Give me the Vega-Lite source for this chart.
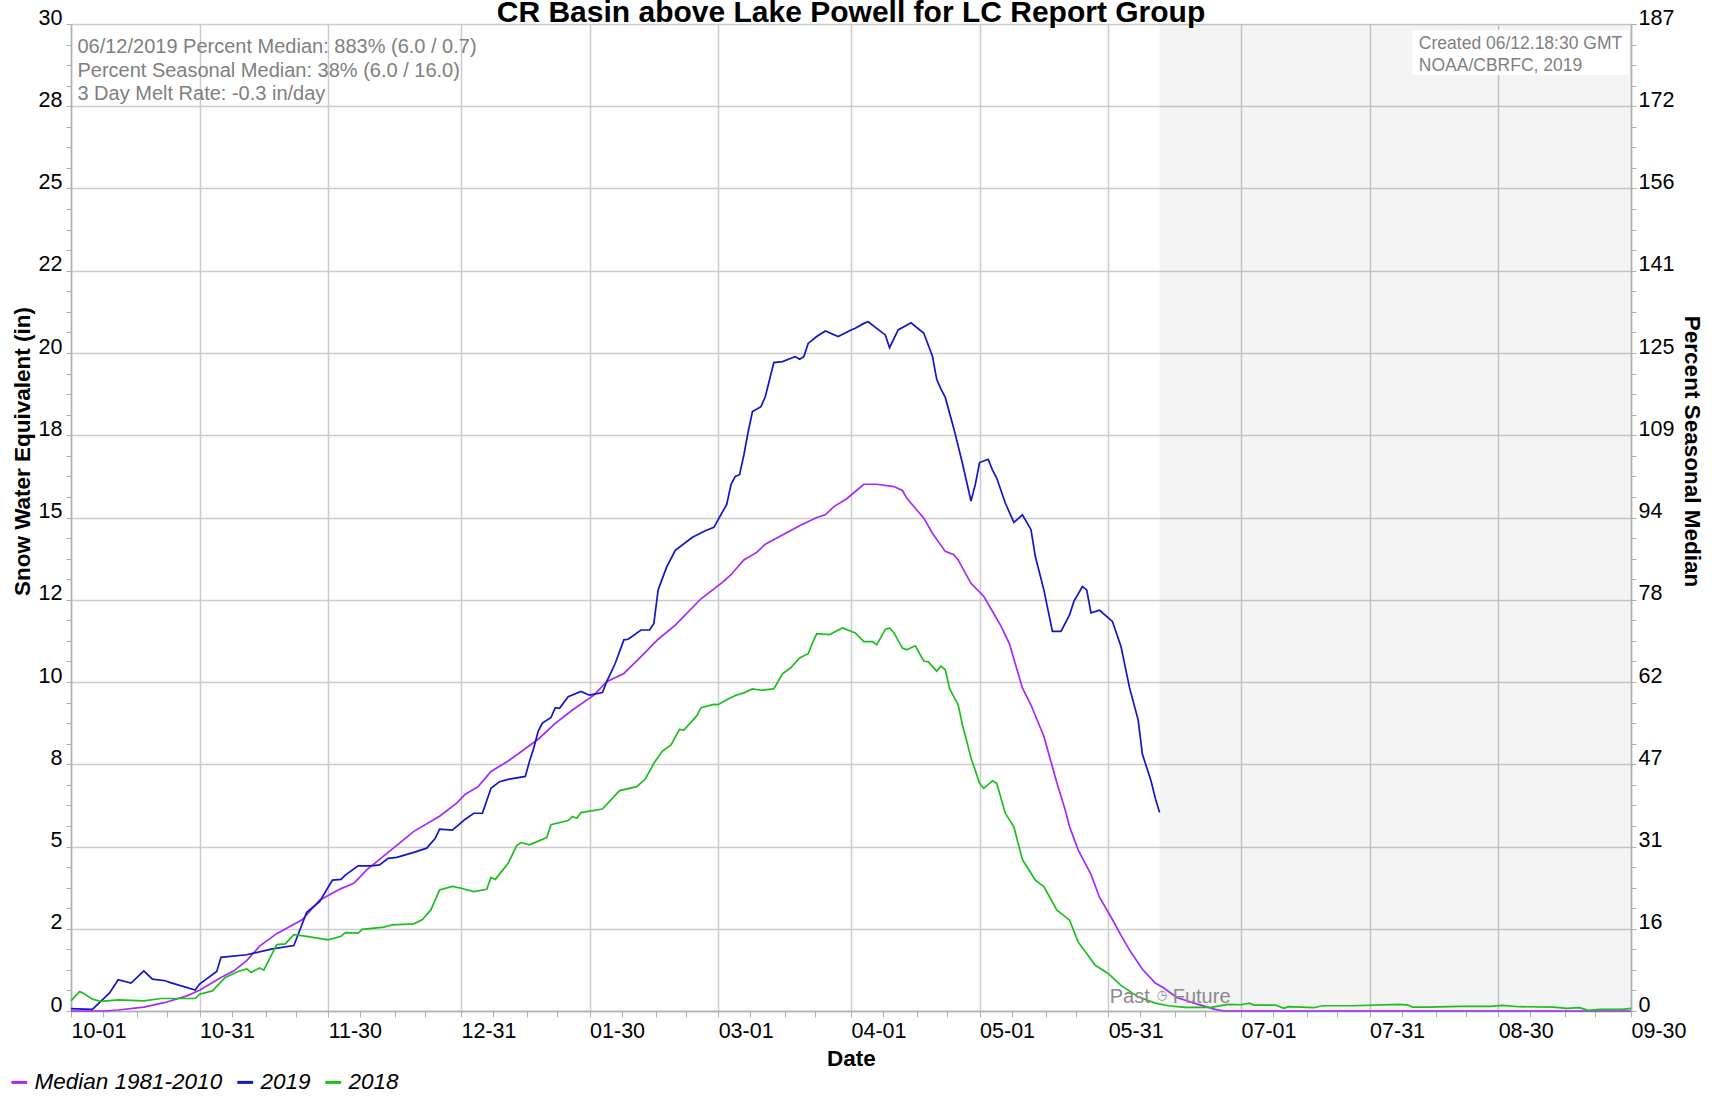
{
  "$schema": "https://vega.github.io/schema/vega-lite/v6.json",
  "width": 1560,
  "height": 987,
  "autosize": {"type": "none"},
  "padding": {"left": 71, "top": 24, "right": 87, "bottom": 85},
  "background": "white",
  "title": {
    "text": "CR Basin above Lake Powell for LC Report Group",
    "frame": "group", "anchor": "middle", "baseline": "alphabetic", "offset": 0, "dy": 45,
    "font": "Liberation Sans", "fontSize": 30, "fontWeight": "bold", "color": "#000000"
  },
  "config": {"view": {"stroke": null}, "font": "Liberation Sans"},
  "resolve": {"axis": {"x": "independent", "y": "independent"}},
  "layer": [
    {
      "data": {"values": [{"start": "2019-06-12", "end": "2019-09-30"}]},
      "mark": {"type": "rect", "fill": "#000000", "opacity": 0.045},
      "encoding": {
        "x": {"field": "start", "type": "temporal", "axis": null},
        "x2": {"field": "end"}
      }
    },
    {
      "data": {"values": [{}]},
      "mark": {"type": "rect", "fill": "#ffffff"},
      "encoding": {
        "x": {"datum": {"year": 2019, "month": 8, "date": 10, "utc": true}, "type": "temporal", "axis": null},
        "x2": {"datum": {"year": 2019, "month": 9, "date": 29, "hours": 12, "utc": true}},
        "y": {"datum": 29.81, "type": "quantitative", "axis": null},
        "y2": {"datum": 28.45}
      }
    },
    {
      "data": {"values": [
        {"date": "2018-10-01", "series": "Median 1981-2010", "swe": 0},
        {"date": "2018-10-09", "series": "Median 1981-2010", "swe": 0},
        {"date": "2018-10-12", "series": "Median 1981-2010", "swe": 0.03},
        {"date": "2018-10-18", "series": "Median 1981-2010", "swe": 0.12},
        {"date": "2018-10-23", "series": "Median 1981-2010", "swe": 0.26},
        {"date": "2018-10-28", "series": "Median 1981-2010", "swe": 0.46},
        {"date": "2018-10-31", "series": "Median 1981-2010", "swe": 0.63},
        {"date": "2018-11-05", "series": "Median 1981-2010", "swe": 1.02},
        {"date": "2018-11-08", "series": "Median 1981-2010", "swe": 1.22},
        {"date": "2018-11-11", "series": "Median 1981-2010", "swe": 1.53},
        {"date": "2018-11-14", "series": "Median 1981-2010", "swe": 1.97},
        {"date": "2018-11-18", "series": "Median 1981-2010", "swe": 2.35},
        {"date": "2018-11-24", "series": "Median 1981-2010", "swe": 2.78},
        {"date": "2018-11-28", "series": "Median 1981-2010", "swe": 3.37},
        {"date": "2018-12-03", "series": "Median 1981-2010", "swe": 3.72},
        {"date": "2018-12-06", "series": "Median 1981-2010", "swe": 3.88},
        {"date": "2018-12-09", "series": "Median 1981-2010", "swe": 4.29},
        {"date": "2018-12-14", "series": "Median 1981-2010", "swe": 4.82},
        {"date": "2018-12-20", "series": "Median 1981-2010", "swe": 5.46},
        {"date": "2018-12-26", "series": "Median 1981-2010", "swe": 5.92},
        {"date": "2018-12-30", "series": "Median 1981-2010", "swe": 6.32},
        {"date": "2019-01-01", "series": "Median 1981-2010", "swe": 6.59},
        {"date": "2019-01-04", "series": "Median 1981-2010", "swe": 6.82},
        {"date": "2019-01-07", "series": "Median 1981-2010", "swe": 7.28},
        {"date": "2019-01-11", "series": "Median 1981-2010", "swe": 7.6},
        {"date": "2019-01-14", "series": "Median 1981-2010", "swe": 7.88},
        {"date": "2019-01-18", "series": "Median 1981-2010", "swe": 8.26},
        {"date": "2019-01-22", "series": "Median 1981-2010", "swe": 8.74},
        {"date": "2019-01-26", "series": "Median 1981-2010", "swe": 9.15},
        {"date": "2019-01-31", "series": "Median 1981-2010", "swe": 9.6},
        {"date": "2019-02-03", "series": "Median 1981-2010", "swe": 10.01},
        {"date": "2019-02-07", "series": "Median 1981-2010", "swe": 10.26},
        {"date": "2019-02-11", "series": "Median 1981-2010", "swe": 10.77},
        {"date": "2019-02-15", "series": "Median 1981-2010", "swe": 11.3},
        {"date": "2019-02-19", "series": "Median 1981-2010", "swe": 11.73},
        {"date": "2019-02-25", "series": "Median 1981-2010", "swe": 12.53},
        {"date": "2019-03-02", "series": "Median 1981-2010", "swe": 13.03},
        {"date": "2019-03-04", "series": "Median 1981-2010", "swe": 13.26},
        {"date": "2019-03-07", "series": "Median 1981-2010", "swe": 13.71},
        {"date": "2019-03-10", "series": "Median 1981-2010", "swe": 13.94},
        {"date": "2019-03-12", "series": "Median 1981-2010", "swe": 14.19},
        {"date": "2019-03-16", "series": "Median 1981-2010", "swe": 14.47},
        {"date": "2019-03-20", "series": "Median 1981-2010", "swe": 14.75},
        {"date": "2019-03-24", "series": "Median 1981-2010", "swe": 15.0},
        {"date": "2019-03-26", "series": "Median 1981-2010", "swe": 15.08},
        {"date": "2019-03-28", "series": "Median 1981-2010", "swe": 15.33},
        {"date": "2019-03-31", "series": "Median 1981-2010", "swe": 15.57},
        {"date": "2019-04-02", "series": "Median 1981-2010", "swe": 15.79},
        {"date": "2019-04-04", "series": "Median 1981-2010", "swe": 16.01},
        {"date": "2019-04-07", "series": "Median 1981-2010", "swe": 16.01},
        {"date": "2019-04-11", "series": "Median 1981-2010", "swe": 15.94},
        {"date": "2019-04-13", "series": "Median 1981-2010", "swe": 15.82},
        {"date": "2019-04-14", "series": "Median 1981-2010", "swe": 15.59},
        {"date": "2019-04-16", "series": "Median 1981-2010", "swe": 15.28},
        {"date": "2019-04-18", "series": "Median 1981-2010", "swe": 14.98},
        {"date": "2019-04-20", "series": "Median 1981-2010", "swe": 14.52},
        {"date": "2019-04-23", "series": "Median 1981-2010", "swe": 13.97},
        {"date": "2019-04-25", "series": "Median 1981-2010", "swe": 13.87},
        {"date": "2019-04-26", "series": "Median 1981-2010", "swe": 13.71},
        {"date": "2019-04-29", "series": "Median 1981-2010", "swe": 13.0},
        {"date": "2019-05-02", "series": "Median 1981-2010", "swe": 12.6},
        {"date": "2019-05-04", "series": "Median 1981-2010", "swe": 12.15},
        {"date": "2019-05-06", "series": "Median 1981-2010", "swe": 11.7},
        {"date": "2019-05-08", "series": "Median 1981-2010", "swe": 11.15},
        {"date": "2019-05-09", "series": "Median 1981-2010", "swe": 10.7},
        {"date": "2019-05-11", "series": "Median 1981-2010", "swe": 9.82},
        {"date": "2019-05-13", "series": "Median 1981-2010", "swe": 9.3},
        {"date": "2019-05-16", "series": "Median 1981-2010", "swe": 8.35},
        {"date": "2019-05-19", "series": "Median 1981-2010", "swe": 6.95},
        {"date": "2019-05-21", "series": "Median 1981-2010", "swe": 6.1},
        {"date": "2019-05-22", "series": "Median 1981-2010", "swe": 5.6},
        {"date": "2019-05-24", "series": "Median 1981-2010", "swe": 4.9},
        {"date": "2019-05-27", "series": "Median 1981-2010", "swe": 4.15},
        {"date": "2019-05-29", "series": "Median 1981-2010", "swe": 3.45},
        {"date": "2019-06-01", "series": "Median 1981-2010", "swe": 2.78},
        {"date": "2019-06-03", "series": "Median 1981-2010", "swe": 2.3},
        {"date": "2019-06-05", "series": "Median 1981-2010", "swe": 1.85},
        {"date": "2019-06-08", "series": "Median 1981-2010", "swe": 1.27},
        {"date": "2019-06-11", "series": "Median 1981-2010", "swe": 0.85},
        {"date": "2019-06-13", "series": "Median 1981-2010", "swe": 0.7},
        {"date": "2019-06-16", "series": "Median 1981-2010", "swe": 0.41},
        {"date": "2019-06-21", "series": "Median 1981-2010", "swe": 0.2},
        {"date": "2019-06-25", "series": "Median 1981-2010", "swe": 0.05},
        {"date": "2019-06-27", "series": "Median 1981-2010", "swe": 0},
        {"date": "2019-09-30", "series": "Median 1981-2010", "swe": 0},

        {"date": "2018-10-01", "series": "2019", "swe": 0.07},
        {"date": "2018-10-04", "series": "2019", "swe": 0.06},
        {"date": "2018-10-06", "series": "2019", "swe": 0.05},
        {"date": "2018-10-10", "series": "2019", "swe": 0.55},
        {"date": "2018-10-12", "series": "2019", "swe": 0.95},
        {"date": "2018-10-15", "series": "2019", "swe": 0.85},
        {"date": "2018-10-18", "series": "2019", "swe": 1.22},
        {"date": "2018-10-20", "series": "2019", "swe": 0.97},
        {"date": "2018-10-23", "series": "2019", "swe": 0.92},
        {"date": "2018-10-24", "series": "2019", "swe": 0.87},
        {"date": "2018-10-30", "series": "2019", "swe": 0.64},
        {"date": "2018-10-31", "series": "2019", "swe": 0.82},
        {"date": "2018-11-04", "series": "2019", "swe": 1.2},
        {"date": "2018-11-05", "series": "2019", "swe": 1.63},
        {"date": "2018-11-11", "series": "2019", "swe": 1.71},
        {"date": "2018-11-17", "series": "2019", "swe": 1.89},
        {"date": "2018-11-22", "series": "2019", "swe": 1.99},
        {"date": "2018-11-25", "series": "2019", "swe": 3.0},
        {"date": "2018-11-28", "series": "2019", "swe": 3.32},
        {"date": "2018-12-01", "series": "2019", "swe": 3.98},
        {"date": "2018-12-03", "series": "2019", "swe": 4.0},
        {"date": "2018-12-04", "series": "2019", "swe": 4.13},
        {"date": "2018-12-07", "series": "2019", "swe": 4.41},
        {"date": "2018-12-10", "series": "2019", "swe": 4.41},
        {"date": "2018-12-12", "series": "2019", "swe": 4.44},
        {"date": "2018-12-14", "series": "2019", "swe": 4.64},
        {"date": "2018-12-16", "series": "2019", "swe": 4.67},
        {"date": "2018-12-20", "series": "2019", "swe": 4.82},
        {"date": "2018-12-23", "series": "2019", "swe": 4.95},
        {"date": "2018-12-25", "series": "2019", "swe": 5.25},
        {"date": "2018-12-26", "series": "2019", "swe": 5.53},
        {"date": "2018-12-29", "series": "2019", "swe": 5.5},
        {"date": "2019-01-01", "series": "2019", "swe": 5.83},
        {"date": "2019-01-03", "series": "2019", "swe": 6.01},
        {"date": "2019-01-05", "series": "2019", "swe": 6.01},
        {"date": "2019-01-07", "series": "2019", "swe": 6.77},
        {"date": "2019-01-09", "series": "2019", "swe": 6.97},
        {"date": "2019-01-11", "series": "2019", "swe": 7.04},
        {"date": "2019-01-15", "series": "2019", "swe": 7.13},
        {"date": "2019-01-16", "series": "2019", "swe": 7.6},
        {"date": "2019-01-17", "series": "2019", "swe": 8.0},
        {"date": "2019-01-18", "series": "2019", "swe": 8.5},
        {"date": "2019-01-19", "series": "2019", "swe": 8.75},
        {"date": "2019-01-21", "series": "2019", "swe": 8.92},
        {"date": "2019-01-22", "series": "2019", "swe": 9.22},
        {"date": "2019-01-23", "series": "2019", "swe": 9.2},
        {"date": "2019-01-25", "series": "2019", "swe": 9.55},
        {"date": "2019-01-28", "series": "2019", "swe": 9.71},
        {"date": "2019-01-30", "series": "2019", "swe": 9.6},
        {"date": "2019-02-02", "series": "2019", "swe": 9.68},
        {"date": "2019-02-03", "series": "2019", "swe": 10.01},
        {"date": "2019-02-05", "series": "2019", "swe": 10.57},
        {"date": "2019-02-07", "series": "2019", "swe": 11.28},
        {"date": "2019-02-08", "series": "2019", "swe": 11.3},
        {"date": "2019-02-11", "series": "2019", "swe": 11.58},
        {"date": "2019-02-13", "series": "2019", "swe": 11.58},
        {"date": "2019-02-14", "series": "2019", "swe": 11.78},
        {"date": "2019-02-15", "series": "2019", "swe": 12.8},
        {"date": "2019-02-16", "series": "2019", "swe": 13.15},
        {"date": "2019-02-17", "series": "2019", "swe": 13.5},
        {"date": "2019-02-19", "series": "2019", "swe": 14.0},
        {"date": "2019-02-23", "series": "2019", "swe": 14.4},
        {"date": "2019-02-26", "series": "2019", "swe": 14.6},
        {"date": "2019-02-28", "series": "2019", "swe": 14.7},
        {"date": "2019-03-03", "series": "2019", "swe": 15.4},
        {"date": "2019-03-04", "series": "2019", "swe": 16.0},
        {"date": "2019-03-05", "series": "2019", "swe": 16.25},
        {"date": "2019-03-06", "series": "2019", "swe": 16.3},
        {"date": "2019-03-07", "series": "2019", "swe": 16.9},
        {"date": "2019-03-08", "series": "2019", "swe": 17.6},
        {"date": "2019-03-09", "series": "2019", "swe": 18.22},
        {"date": "2019-03-11", "series": "2019", "swe": 18.37},
        {"date": "2019-03-12", "series": "2019", "swe": 18.67},
        {"date": "2019-03-14", "series": "2019", "swe": 19.71},
        {"date": "2019-03-16", "series": "2019", "swe": 19.74},
        {"date": "2019-03-18", "series": "2019", "swe": 19.84},
        {"date": "2019-03-19", "series": "2019", "swe": 19.89},
        {"date": "2019-03-20", "series": "2019", "swe": 19.81},
        {"date": "2019-03-21", "series": "2019", "swe": 19.89},
        {"date": "2019-03-22", "series": "2019", "swe": 20.29},
        {"date": "2019-03-24", "series": "2019", "swe": 20.5},
        {"date": "2019-03-26", "series": "2019", "swe": 20.67},
        {"date": "2019-03-29", "series": "2019", "swe": 20.5},
        {"date": "2019-04-01", "series": "2019", "swe": 20.7},
        {"date": "2019-04-02", "series": "2019", "swe": 20.75},
        {"date": "2019-04-04", "series": "2019", "swe": 20.9},
        {"date": "2019-04-05", "series": "2019", "swe": 20.95},
        {"date": "2019-04-07", "series": "2019", "swe": 20.75},
        {"date": "2019-04-09", "series": "2019", "swe": 20.55},
        {"date": "2019-04-10", "series": "2019", "swe": 20.16},
        {"date": "2019-04-12", "series": "2019", "swe": 20.7},
        {"date": "2019-04-15", "series": "2019", "swe": 20.92},
        {"date": "2019-04-18", "series": "2019", "swe": 20.6},
        {"date": "2019-04-20", "series": "2019", "swe": 19.9},
        {"date": "2019-04-21", "series": "2019", "swe": 19.2},
        {"date": "2019-04-22", "series": "2019", "swe": 18.9},
        {"date": "2019-04-23", "series": "2019", "swe": 18.65},
        {"date": "2019-04-25", "series": "2019", "swe": 17.7},
        {"date": "2019-04-27", "series": "2019", "swe": 16.65},
        {"date": "2019-04-29", "series": "2019", "swe": 15.5},
        {"date": "2019-04-30", "series": "2019", "swe": 16.0},
        {"date": "2019-05-01", "series": "2019", "swe": 16.67},
        {"date": "2019-05-03", "series": "2019", "swe": 16.77},
        {"date": "2019-05-04", "series": "2019", "swe": 16.45},
        {"date": "2019-05-05", "series": "2019", "swe": 16.2},
        {"date": "2019-05-07", "series": "2019", "swe": 15.44},
        {"date": "2019-05-09", "series": "2019", "swe": 14.85},
        {"date": "2019-05-11", "series": "2019", "swe": 15.08},
        {"date": "2019-05-13", "series": "2019", "swe": 14.63},
        {"date": "2019-05-14", "series": "2019", "swe": 13.82},
        {"date": "2019-05-16", "series": "2019", "swe": 12.8},
        {"date": "2019-05-18", "series": "2019", "swe": 11.54},
        {"date": "2019-05-20", "series": "2019", "swe": 11.54},
        {"date": "2019-05-22", "series": "2019", "swe": 12.04},
        {"date": "2019-05-23", "series": "2019", "swe": 12.45},
        {"date": "2019-05-25", "series": "2019", "swe": 12.9},
        {"date": "2019-05-26", "series": "2019", "swe": 12.8},
        {"date": "2019-05-27", "series": "2019", "swe": 12.1},
        {"date": "2019-05-29", "series": "2019", "swe": 12.18},
        {"date": "2019-06-01", "series": "2019", "swe": 11.84},
        {"date": "2019-06-03", "series": "2019", "swe": 11.08},
        {"date": "2019-06-05", "series": "2019", "swe": 9.82},
        {"date": "2019-06-07", "series": "2019", "swe": 8.85},
        {"date": "2019-06-08", "series": "2019", "swe": 7.8},
        {"date": "2019-06-10", "series": "2019", "swe": 7.0},
        {"date": "2019-06-11", "series": "2019", "swe": 6.47},
        {"date": "2019-06-12", "series": "2019", "swe": 6.03},

        {"date": "2018-10-01", "series": "2018", "swe": 0.31},
        {"date": "2018-10-03", "series": "2018", "swe": 0.59},
        {"date": "2018-10-04", "series": "2018", "swe": 0.53},
        {"date": "2018-10-06", "series": "2018", "swe": 0.36},
        {"date": "2018-10-08", "series": "2018", "swe": 0.29},
        {"date": "2018-10-12", "series": "2018", "swe": 0.34},
        {"date": "2018-10-18", "series": "2018", "swe": 0.31},
        {"date": "2018-10-22", "series": "2018", "swe": 0.38},
        {"date": "2018-10-30", "series": "2018", "swe": 0.38},
        {"date": "2018-10-31", "series": "2018", "swe": 0.51},
        {"date": "2018-11-03", "series": "2018", "swe": 0.61},
        {"date": "2018-11-06", "series": "2018", "swe": 1.02},
        {"date": "2018-11-09", "series": "2018", "swe": 1.2},
        {"date": "2018-11-11", "series": "2018", "swe": 1.28},
        {"date": "2018-11-12", "series": "2018", "swe": 1.17},
        {"date": "2018-11-14", "series": "2018", "swe": 1.31},
        {"date": "2018-11-15", "series": "2018", "swe": 1.24},
        {"date": "2018-11-18", "series": "2018", "swe": 2.02},
        {"date": "2018-11-20", "series": "2018", "swe": 2.04},
        {"date": "2018-11-22", "series": "2018", "swe": 2.32},
        {"date": "2018-11-25", "series": "2018", "swe": 2.27},
        {"date": "2018-11-30", "series": "2018", "swe": 2.16},
        {"date": "2018-12-03", "series": "2018", "swe": 2.27},
        {"date": "2018-12-04", "series": "2018", "swe": 2.38},
        {"date": "2018-12-07", "series": "2018", "swe": 2.37},
        {"date": "2018-12-08", "series": "2018", "swe": 2.48},
        {"date": "2018-12-13", "series": "2018", "swe": 2.55},
        {"date": "2018-12-15", "series": "2018", "swe": 2.62},
        {"date": "2018-12-20", "series": "2018", "swe": 2.65},
        {"date": "2018-12-22", "series": "2018", "swe": 2.78},
        {"date": "2018-12-24", "series": "2018", "swe": 3.08},
        {"date": "2018-12-26", "series": "2018", "swe": 3.68},
        {"date": "2018-12-29", "series": "2018", "swe": 3.79},
        {"date": "2018-12-31", "series": "2018", "swe": 3.73},
        {"date": "2019-01-03", "series": "2018", "swe": 3.63},
        {"date": "2019-01-06", "series": "2018", "swe": 3.7},
        {"date": "2019-01-07", "series": "2018", "swe": 4.06},
        {"date": "2019-01-08", "series": "2018", "swe": 4.0},
        {"date": "2019-01-11", "series": "2018", "swe": 4.49},
        {"date": "2019-01-13", "series": "2018", "swe": 5.03},
        {"date": "2019-01-14", "series": "2018", "swe": 5.12},
        {"date": "2019-01-16", "series": "2018", "swe": 5.05},
        {"date": "2019-01-20", "series": "2018", "swe": 5.27},
        {"date": "2019-01-21", "series": "2018", "swe": 5.66},
        {"date": "2019-01-25", "series": "2018", "swe": 5.79},
        {"date": "2019-01-26", "series": "2018", "swe": 5.91},
        {"date": "2019-01-27", "series": "2018", "swe": 5.86},
        {"date": "2019-01-28", "series": "2018", "swe": 6.03},
        {"date": "2019-02-02", "series": "2018", "swe": 6.14},
        {"date": "2019-02-06", "series": "2018", "swe": 6.7},
        {"date": "2019-02-10", "series": "2018", "swe": 6.82},
        {"date": "2019-02-12", "series": "2018", "swe": 7.05},
        {"date": "2019-02-14", "series": "2018", "swe": 7.53},
        {"date": "2019-02-16", "series": "2018", "swe": 7.9},
        {"date": "2019-02-18", "series": "2018", "swe": 8.09},
        {"date": "2019-02-20", "series": "2018", "swe": 8.56},
        {"date": "2019-02-21", "series": "2018", "swe": 8.54},
        {"date": "2019-02-24", "series": "2018", "swe": 8.97},
        {"date": "2019-02-25", "series": "2018", "swe": 9.22},
        {"date": "2019-02-28", "series": "2018", "swe": 9.32},
        {"date": "2019-03-01", "series": "2018", "swe": 9.31},
        {"date": "2019-03-03", "series": "2018", "swe": 9.46},
        {"date": "2019-03-05", "series": "2018", "swe": 9.59},
        {"date": "2019-03-07", "series": "2018", "swe": 9.67},
        {"date": "2019-03-09", "series": "2018", "swe": 9.79},
        {"date": "2019-03-11", "series": "2018", "swe": 9.75},
        {"date": "2019-03-14", "series": "2018", "swe": 9.79},
        {"date": "2019-03-16", "series": "2018", "swe": 10.25},
        {"date": "2019-03-18", "series": "2018", "swe": 10.44},
        {"date": "2019-03-20", "series": "2018", "swe": 10.73},
        {"date": "2019-03-22", "series": "2018", "swe": 10.86},
        {"date": "2019-03-23", "series": "2018", "swe": 11.18},
        {"date": "2019-03-24", "series": "2018", "swe": 11.47},
        {"date": "2019-03-27", "series": "2018", "swe": 11.44},
        {"date": "2019-03-30", "series": "2018", "swe": 11.64},
        {"date": "2019-04-02", "series": "2018", "swe": 11.49},
        {"date": "2019-04-04", "series": "2018", "swe": 11.23},
        {"date": "2019-04-06", "series": "2018", "swe": 11.23},
        {"date": "2019-04-07", "series": "2018", "swe": 11.13},
        {"date": "2019-04-09", "series": "2018", "swe": 11.6},
        {"date": "2019-04-10", "series": "2018", "swe": 11.64},
        {"date": "2019-04-11", "series": "2018", "swe": 11.5},
        {"date": "2019-04-13", "series": "2018", "swe": 11.03},
        {"date": "2019-04-14", "series": "2018", "swe": 10.98},
        {"date": "2019-04-16", "series": "2018", "swe": 11.1},
        {"date": "2019-04-18", "series": "2018", "swe": 10.63},
        {"date": "2019-04-19", "series": "2018", "swe": 10.62},
        {"date": "2019-04-21", "series": "2018", "swe": 10.33},
        {"date": "2019-04-22", "series": "2018", "swe": 10.48},
        {"date": "2019-04-23", "series": "2018", "swe": 10.37},
        {"date": "2019-04-24", "series": "2018", "swe": 9.8},
        {"date": "2019-04-26", "series": "2018", "swe": 9.31},
        {"date": "2019-04-27", "series": "2018", "swe": 8.7},
        {"date": "2019-04-29", "series": "2018", "swe": 7.7},
        {"date": "2019-05-01", "series": "2018", "swe": 6.92},
        {"date": "2019-05-02", "series": "2018", "swe": 6.77},
        {"date": "2019-05-04", "series": "2018", "swe": 7.0},
        {"date": "2019-05-05", "series": "2018", "swe": 6.92},
        {"date": "2019-05-07", "series": "2018", "swe": 6.01},
        {"date": "2019-05-09", "series": "2018", "swe": 5.6},
        {"date": "2019-05-10", "series": "2018", "swe": 5.1},
        {"date": "2019-05-11", "series": "2018", "swe": 4.6},
        {"date": "2019-05-14", "series": "2018", "swe": 3.98},
        {"date": "2019-05-16", "series": "2018", "swe": 3.78},
        {"date": "2019-05-19", "series": "2018", "swe": 3.07},
        {"date": "2019-05-22", "series": "2018", "swe": 2.76},
        {"date": "2019-05-24", "series": "2018", "swe": 2.1},
        {"date": "2019-05-28", "series": "2018", "swe": 1.39},
        {"date": "2019-05-31", "series": "2018", "swe": 1.14},
        {"date": "2019-06-03", "series": "2018", "swe": 0.78},
        {"date": "2019-06-07", "series": "2018", "swe": 0.43},
        {"date": "2019-06-11", "series": "2018", "swe": 0.24},
        {"date": "2019-06-14", "series": "2018", "swe": 0.16},
        {"date": "2019-06-18", "series": "2018", "swe": 0.11},
        {"date": "2019-06-24", "series": "2018", "swe": 0.11},
        {"date": "2019-06-28", "series": "2018", "swe": 0.2},
        {"date": "2019-07-01", "series": "2018", "swe": 0.19},
        {"date": "2019-07-03", "series": "2018", "swe": 0.24},
        {"date": "2019-07-04", "series": "2018", "swe": 0.18},
        {"date": "2019-07-09", "series": "2018", "swe": 0.18},
        {"date": "2019-07-11", "series": "2018", "swe": 0.08},
        {"date": "2019-07-12", "series": "2018", "swe": 0.13},
        {"date": "2019-07-18", "series": "2018", "swe": 0.1},
        {"date": "2019-07-20", "series": "2018", "swe": 0.16},
        {"date": "2019-07-27", "series": "2018", "swe": 0.16},
        {"date": "2019-08-07", "series": "2018", "swe": 0.2},
        {"date": "2019-08-09", "series": "2018", "swe": 0.18},
        {"date": "2019-08-10", "series": "2018", "swe": 0.12},
        {"date": "2019-08-14", "series": "2018", "swe": 0.12},
        {"date": "2019-08-21", "series": "2018", "swe": 0.14},
        {"date": "2019-08-28", "series": "2018", "swe": 0.14},
        {"date": "2019-08-31", "series": "2018", "swe": 0.17},
        {"date": "2019-09-04", "series": "2018", "swe": 0.13},
        {"date": "2019-09-12", "series": "2018", "swe": 0.12},
        {"date": "2019-09-15", "series": "2018", "swe": 0.08},
        {"date": "2019-09-18", "series": "2018", "swe": 0.1},
        {"date": "2019-09-20", "series": "2018", "swe": 0.02},
        {"date": "2019-09-23", "series": "2018", "swe": 0.05},
        {"date": "2019-09-28", "series": "2018", "swe": 0.05},
        {"date": "2019-09-30", "series": "2018", "swe": 0.08}
      ]},
      "mark": {"type": "line", "strokeWidth": 1.7},
      "encoding": {
        "x": {
          "field": "date", "type": "temporal",
          "scale": {"domain": [1538352000000, 1569801600000]},
          "axis": {
            "orient": "bottom",
            "values": [1538352000000, 1539000000000, 1539691200000, 1540296000000,
                       1540944000000, 1541592000000, 1542283200000, 1542888000000,
                       1543536000000, 1544184000000, 1544875200000, 1545480000000,
                       1546214400000, 1546862400000, 1547553600000, 1548158400000,
                       1548806400000, 1549454400000, 1550145600000, 1550750400000,
                       1551398400000, 1552046400000, 1552737600000, 1553342400000,
                       1554076800000, 1554724800000, 1555416000000, 1556020800000,
                       1556668800000, 1557316800000, 1558008000000, 1558612800000,
                       1559260800000, 1559908800000, 1560600000000, 1561204800000,
                       1561939200000, 1562587200000, 1563278400000, 1563883200000,
                       1564531200000, 1565179200000, 1565870400000, 1566475200000,
                       1567123200000, 1567771200000, 1568462400000, 1569067200000,
                       1569801600000],
            "labelExpr": "utchours(datum.value) == 0 ? utcFormat(datum.value, '%m-%d') : ''",
            "labelAlign": "left", "labelBaseline": "top", "labelPadding": 3,
            "labelFlush": false, "labelOverlap": false, "labelBound": false,
            "labelFont": "Liberation Sans", "labelFontSize": 21.5, "labelColor": "#000000",
            "tickSize": 6, "tickColor": "#b0b0b0", "tickWidth": 1,
            "domainColor": "#b0b0b0", "domainWidth": 1.5,
            "grid": true, "gridColor": "#cccccc", "gridWidth": 1.5,
            "gridOpacity": {"condition": {"test": "utchours(datum.value) == 0", "value": 1}, "value": 0},
            "title": "Date", "titleFont": "Liberation Sans", "titleFontSize": 22.5,
            "titleFontWeight": "bold", "titleColor": "#000000",
            "titleY": 54, "titleBaseline": "alphabetic"
          }
        },
        "y": {
          "field": "swe", "type": "quantitative",
          "scale": {"domain": [0, 30], "nice": false, "zero": true},
          "axis": {
            "orient": "left",
            "values": [0, 0.625, 1.25, 1.875, 2.5, 3.125, 3.75, 4.375, 5, 5.625, 6.25, 6.875, 7.5, 8.125, 8.75, 9.375, 10, 10.625, 11.25, 11.875, 12.5, 13.125, 13.75, 14.375, 15, 15.625, 16.25, 16.875, 17.5, 18.125, 18.75, 19.375, 20, 20.625, 21.25, 21.875, 22.5, 23.125, 23.75, 24.375, 25, 25.625, 26.25, 26.875, 27.5, 28.125, 28.75, 29.375, 30],
            "labelExpr": "datum.value % 2.5 == 0 ? ['0','2','5','8','10','12','15','18','20','22','25','28','30'][round(datum.value / 2.5)] : ''",
            "labelAlign": "right", "labelBaseline": "alphabetic", "labelPadding": 4,
            "labelFlush": false, "labelOverlap": false, "labelBound": false,
            "labelFont": "Liberation Sans", "labelFontSize": 21.5, "labelColor": "#000000",
            "tickSize": 5, "tickColor": "#b0b0b0", "tickWidth": 1,
            "domainColor": "#b0b0b0", "domainWidth": 1.5,
            "grid": true, "gridColor": "#cccccc", "gridWidth": 1.5,
            "gridOpacity": {"condition": {"test": "datum.value % 2.5 == 0", "value": 1}, "value": 0},
            "title": "Snow Water Equivalent (in)", "titleFont": "Liberation Sans", "titleFontSize": 22.5,
            "titleFontWeight": "bold", "titleColor": "#000000",
            "titleX": -49, "titleY": 427, "titleAngle": 270, "titleAlign": "center", "titleBaseline": "middle"
          }
        },
        "color": {
          "field": "series", "type": "nominal",
          "scale": {"domain": ["Median 1981-2010", "2019", "2018"], "range": ["#a52af5", "#1414c8", "#1ebe1e"]},
          "legend": {
            "orient": "none", "legendX": -63, "legendY": 1047, "direction": "horizontal",
            "title": null, "symbolType": "stroke", "symbolStrokeWidth": 3, "symbolSize": 250,
            "labelFont": "Liberation Sans", "labelFontStyle": "italic", "labelFontSize": 22.5,
            "labelColor": "#000000", "columnPadding": 8, "labelOffset": 4, "labelLimit": 400
          }
        }
      }
    },
    {
      "data": {"values": [{}]},
      "mark": {
        "type": "text", "align": "left", "baseline": "top", "lineHeight": 23.5,
        "font": "Liberation Sans", "fontSize": 20, "color": "#7f7f7f",
        "text": ["06/12/2019 Percent Median: 883% (6.0 / 0.7)", "Percent Seasonal Median: 38% (6.0 / 16.0)", "3 Day Melt Rate: -0.3 in/day"]
      },
      "encoding": {
        "x": {"datum": {"year": 2018, "month": 10, "date": 2, "hours": 12, "utc": true}, "type": "temporal", "axis": null},
        "y": {
          "datum": 29.6, "type": "quantitative",
          "axis": {
            "orient": "right",
            "values": [0, 0.625, 1.25, 1.875, 2.5, 3.125, 3.75, 4.375, 5, 5.625, 6.25, 6.875, 7.5, 8.125, 8.75, 9.375, 10, 10.625, 11.25, 11.875, 12.5, 13.125, 13.75, 14.375, 15, 15.625, 16.25, 16.875, 17.5, 18.125, 18.75, 19.375, 20, 20.625, 21.25, 21.875, 22.5, 23.125, 23.75, 24.375, 25, 25.625, 26.25, 26.875, 27.5, 28.125, 28.75, 29.375, 30],
            "labelExpr": "datum.value % 2.5 == 0 ? ['0','16','31','47','62','78','94','109','125','141','156','172','187'][round(datum.value / 2.5)] : ''",
            "labelAlign": "left", "labelBaseline": "alphabetic", "labelPadding": 2,
            "labelFlush": false, "labelOverlap": false, "labelBound": false,
            "labelFont": "Liberation Sans", "labelFontSize": 21.5, "labelColor": "#000000",
            "tickSize": 5, "tickColor": "#b0b0b0", "tickWidth": 1,
            "domainColor": "#b0b0b0", "domainWidth": 1.5,
            "grid": false,
            "title": "Percent Seasonal Median", "titleFont": "Liberation Sans", "titleFontSize": 22.5,
            "titleFontWeight": "bold", "titleColor": "#000000",
            "titleX": 60, "titleY": 427, "titleAngle": 90, "titleAlign": "center", "titleBaseline": "middle"
          }
        }
      }
    },
    {
      "data": {"values": [{}]},
      "mark": {
        "type": "text", "align": "left", "baseline": "top", "lineHeight": 22,
        "font": "Liberation Sans", "fontSize": 17.5, "color": "#7f7f7f",
        "text": ["Created 06/12.18:30 GMT", "NOAA/CBRFC, 2019"]
      },
      "encoding": {
        "x": {"datum": {"year": 2019, "month": 8, "date": 11, "hours": 12, "utc": true}, "type": "temporal", "axis": null},
        "y": {"datum": 29.67, "type": "quantitative", "axis": null}
      }
    },
    {
      "data": {"values": [{}]},
      "mark": {"type": "text", "align": "right", "baseline": "alphabetic", "dx": -12, "font": "Liberation Sans", "fontSize": 20, "color": "#8a8a8a", "text": "Past"},
      "encoding": {
        "x": {"datum": {"year": 2019, "month": 6, "date": 12, "hours": 12, "utc": true}, "type": "temporal", "axis": null},
        "y": {"datum": 0.23, "type": "quantitative", "axis": null}
      }
    },
    {
      "data": {"values": [{}]},
      "mark": {"type": "text", "align": "center", "baseline": "alphabetic", "dy": -4, "font": "DejaVu Sans", "fontSize": 12, "color": "#8a8a8a", "text": "◷"},
      "encoding": {
        "x": {"datum": {"year": 2019, "month": 6, "date": 12, "hours": 12, "utc": true}, "type": "temporal", "axis": null},
        "y": {"datum": 0.23, "type": "quantitative", "axis": null}
      }
    },
    {
      "data": {"values": [{}]},
      "mark": {"type": "text", "align": "left", "baseline": "alphabetic", "dx": 11, "font": "Liberation Sans", "fontSize": 20, "color": "#8a8a8a", "text": "Future"},
      "encoding": {
        "x": {"datum": {"year": 2019, "month": 6, "date": 12, "hours": 12, "utc": true}, "type": "temporal", "axis": null},
        "y": {"datum": 0.23, "type": "quantitative", "axis": null}
      }
    }
  ]
}
